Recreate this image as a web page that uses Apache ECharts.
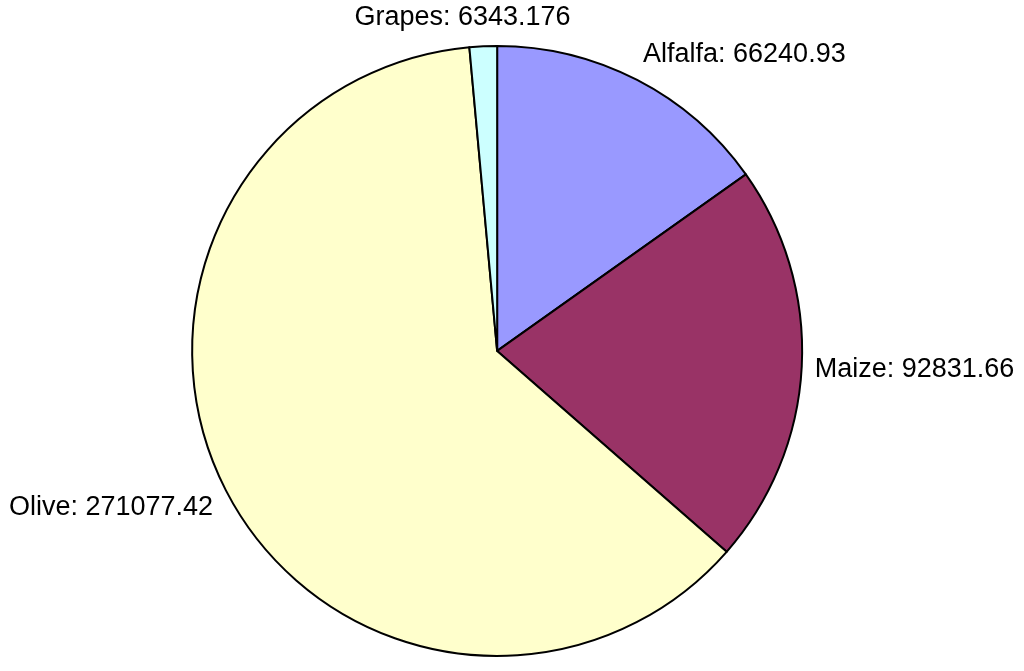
<!DOCTYPE html>
<html>
<head>
<meta charset="utf-8">
<script src="https://cdn.jsdelivr.net/npm/echarts@6/dist/echarts.min.js"></script>
<style>
  html, body { margin: 0; padding: 0; background: #fff; }
  #chart { width: 1024px; height: 671px; }
</style>
</head>
<body>
<div id="chart"></div>
<script>
// crop areas
const categories = ['Alfalfa', 'Maize', 'Olive', 'Grapes'];
const values = [66240.93, 92831.66, 271077.42, 6343.176];
const labelTexts = ['66240.93', '92831.66', '271077.42', '6343.176'];
const colors = ['#9999ff', '#993366', '#ffffcc', '#ccffff'];

// label nudges (px), same order as categories
const labelNudge = [
    { dx: -6, dy: -12 },
    { dx: -7, dy: 2 },
    { dx: 6, dy: 11 },
    { dx: -15, dy: -14, align: 'center' }
];

const chart = echarts.init(document.getElementById('chart'));

chart.setOption({
    backgroundColor: '#ffffff',
    animation: false,
    series: [{
        type: 'pie',
        center: ['48.55%', '52.3%'],
        radius: 305,
        startAngle: 90,
        clockwise: true,
        avoidLabelOverlap: false,
        data: categories.map((c, i) => ({
            name: c,
            value: values[i],
            itemStyle: { color: colors[i] },
            label: { formatter: c + ': ' + labelTexts[i] }
        })),
        itemStyle: { borderColor: '#000', borderWidth: 2 },
        label: {
            show: true,
            position: 'outside',
            color: '#000',
            fontSize: 27,
            fontFamily: 'Liberation Sans, Arial, sans-serif'
        },
        labelLine: { show: false, length: 15, length2: 0 },
        labelLayout: p => labelNudge[p.dataIndex],
        emphasis: { disabled: true }
    }]
});
</script>
</body>
</html>
